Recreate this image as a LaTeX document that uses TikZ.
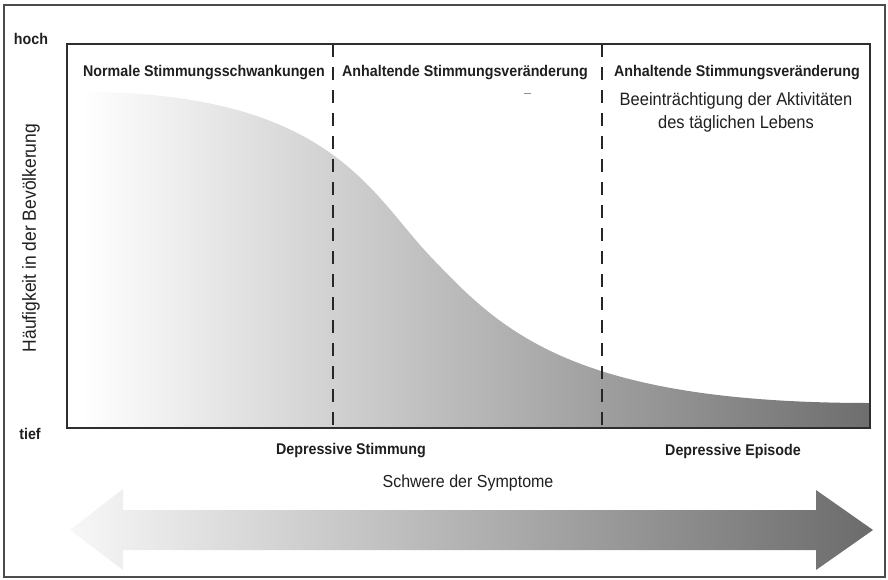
\documentclass[tikz,border=0pt]{standalone}
\usepackage{fontspec}
\setmainfont{Liberation Sans}
\newfontfamily\narrowsans[FakeStretch=0.92]{Liberation Sans}
\begin{document}
\begin{tikzpicture}[x=1pt,y=-1pt,
  lbl/.style={font=\narrowsans\fontsize{15.5}{17}\selectfont\bfseries, text=black!88, inner sep=0pt},
  reg/.style={font=\narrowsans\fontsize{17.9}{23}\selectfont, text=black!88, inner sep=0pt},
  outerframe/.style={draw=black!70, line width=1.5pt},
  plotframe/.style={draw=black!82, line width=1.4pt},
  divider/.style={draw=black!85, line width=1.8pt, dash pattern=on 13pt off 10pt}]
\useasboundingbox (0,0) rectangle (888,580);
\draw[outerframe] (4,5) rectangle (885,577);
% curve area
\shade[left color=white, right color=black!57]
  (82,92) .. controls (330,92) and (370,193) .. (430,256)
  .. controls (500,329.5) and (570,403) .. (870,403)
  -- (870,428) -- (82,428) -- cycle;
% dividers
\coordinate (d1t) at (333,44); \coordinate (d1b) at (333,428);
\coordinate (d2t) at (602,44); \coordinate (d2b) at (602,428);
\draw[divider] (d1t) -- (d1b);
\draw[divider] (d2t) -- (d2b);
% plot frame
\draw[plotframe] (67,44) rectangle (870,428);
% stray mark
\coordinate (m1) at (524,93); \coordinate (m2) at (531,93);
\draw[black!45, line width=0.8pt] (m1) -- (m2);
% arrow
\shade[left color=black!3, right color=black!58]
  (70,530) -- (123,489) -- (123,510) -- (816,510) -- (816,490) -- (873,530)
  -- (816,570) -- (816,550) -- (123,550) -- (123,570) -- cycle;
% texts
\node[lbl] (hoch) at (31,39) {hoch};
\node[lbl] (tief) at (30,434) {tief};
\node[reg, rotate=90, font=\narrowsans\fontsize{19}{22}\selectfont] (ylab) at (31,238) {Häufigkeit in der Bevölkerung};
\node[lbl] (h1) at (204,73) {Normale Stimmungsschwankungen};
\node[lbl] (h2) at (465,73) {Anhaltende Stimmungsveränderung};
\node[lbl] (h3) at (737,73) {Anhaltende Stimmungsveränderung};
\node[reg, align=center] (h3b) at (736,112) {Beeinträchtigung der Aktivitäten\\des täglichen Lebens};
\node[lbl] (ds) at (351,451) {Depressive Stimmung};
\node[lbl] (de) at (733,451) {Depressive Episode};
\node[reg, font=\narrowsans\fontsize{17.4}{20}\selectfont] (sw) at (468,483) {Schwere der Symptome};
\end{tikzpicture}
\end{document}
